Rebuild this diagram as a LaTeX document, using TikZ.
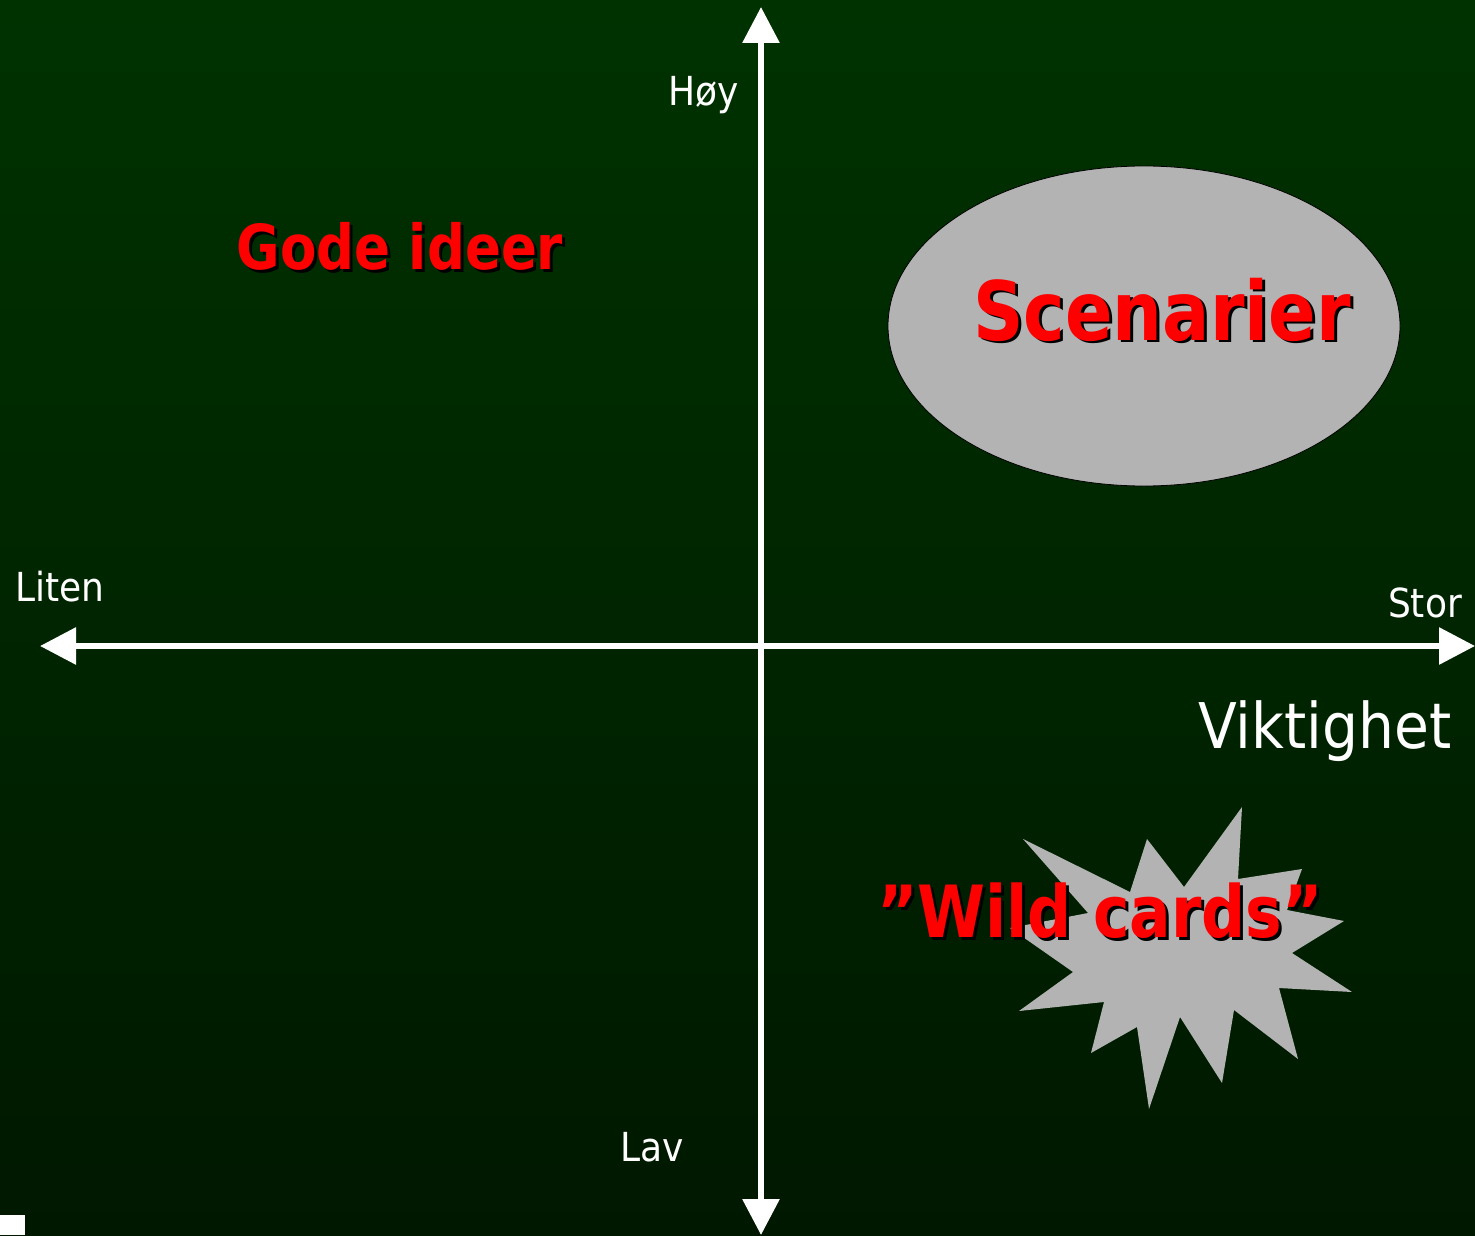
\documentclass[tikz,border=0pt]{standalone}
\usepackage{fontspec}
\setmainfont{DejaVu Sans Condensed}[BoldFeatures={FakeStretch=0.95}]
\usetikzlibrary{arrows.meta,shapes.geometric}
\definecolor{bgtop}{RGB}{0,50,0}
\definecolor{bgbot}{RGB}{0,24,0}
\definecolor{blob}{RGB}{179,179,179}
\begin{document}
\begin{tikzpicture}[x=0.5pt, y=-0.5pt,
    axis/.style = {white, line width=3pt, {Triangle[length=18pt,width=18pt]}-{Triangle[length=18pt,width=18pt]}},
    lbl/.style = {white, inner sep=0pt, anchor=base, font=\fontsize{20}{24}\selectfont},
    hot/.style = {red, inner sep=0pt, anchor=base, font=\bfseries\fontsize{#1}{#1}\selectfont},
    shd/.style = {black, inner sep=0pt, anchor=base, font=\bfseries\fontsize{#1}{#1}\selectfont}]
    % background
    \shade[top color=bgtop, bottom color=bgbot] (0,0) rectangle (1475,1235);
    \fill[white] (0,1215) rectangle (25,1235);
    \useasboundingbox (0,0) rectangle (1475,1235);

    % axes
    \coordinate (west) at (40,646);
    \coordinate (east) at (1475,646);
    \coordinate (north) at (761,7);
    \coordinate (south) at (761,1235);
    \draw[axis] (west) -- (east);
    \draw[axis] (south) -- (north);

    \node[lbl] (hoy) at (704,106) {Høy};
    \node[lbl] (lav) at (652,1161) {Lav};
    \node[lbl] (liten) at (60,601) {Liten};
    \node[lbl] (stor) at (1425,617) {Stor};
    \node[lbl, font=\fontsize{31.5}{36}\selectfont] (vikt) at (1325,748) {Viktighet};

    % shapes
    \node[ellipse, draw=black, fill=blob, minimum width=256pt, minimum height=160pt] (scen) at (1144,326) {};
    \fill[blob] (1010,928) -- (1088,913) -- (1023,839) -- (1130,892) -- (1147,839)
      -- (1184,887) -- (1242,807) -- (1238,879) -- (1302,869) -- (1287,910)
      -- (1344,921) -- (1292,953) -- (1352,992) -- (1279,988) -- (1298,1059)
      -- (1234,1010) -- (1222,1083) -- (1180,1017) -- (1149,1109) -- (1137,1027)
      -- (1091,1053) -- (1104,1002) -- (1019,1011) -- (1073,972) -- cycle;

    % red labels
    \node[shd=31] (godes) at (403,273) {Gode ideer};
    \node[hot=31] (gode) at (400,270) {Gode ideer};
    \node[shd=41] (scens) at (1165,343) {Scenarier};
    \node[hot=41] (scent) at (1162,340) {Scenarier};
    \node[shd=36] (wilds) at (1103,940) {”Wild cards”};
    \node[hot=36] (wild) at (1100,937) {”Wild cards”};
\end{tikzpicture}
\end{document}
